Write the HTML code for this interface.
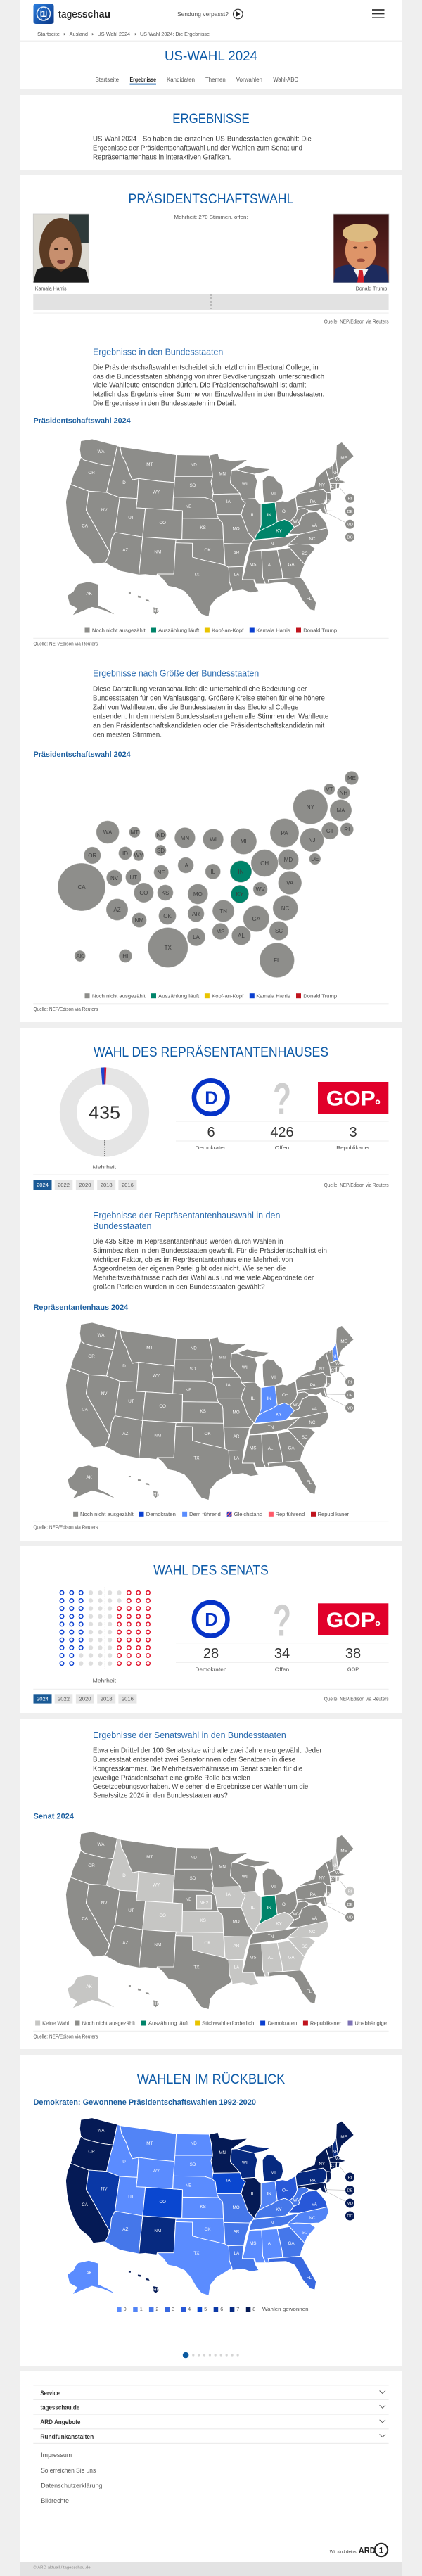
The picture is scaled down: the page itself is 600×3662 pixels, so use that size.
<!DOCTYPE html>
<html lang="de">
<head>
<meta charset="utf-8">
<title>US-Wahl 2024: Die Ergebnisse</title>
<style>
html,body{margin:0;padding:0;background:#efefef;}
svg{display:block;}
text{font-family:"Liberation Sans",Arial,sans-serif;}
.h1{font-size:19px;fill:#0d5aa7;text-anchor:middle;}
.h2{font-size:12.5px;fill:#2b6cb0;}
.ct{font-size:11px;font-weight:bold;fill:#1b5e9f;}
.p{font-size:9.8px;fill:#3d3d3d;}
.sm{font-size:7.2px;fill:#555;}
.bl{font-size:8px;fill:#3d3d3d;text-anchor:middle;}
.num{font-size:20px;fill:#333;text-anchor:middle;}
.cl{font-size:5.8px;fill:#fff;text-anchor:middle;}
</style>
</head>
<body>
<svg xmlns="http://www.w3.org/2000/svg" width="600" height="3662" viewBox="0 0 600 3662">
<defs>
<linearGradient id="lg" x1="0" y1="0" x2="1" y2="1"><stop offset="0" stop-color="#2b7fe0"/><stop offset="1" stop-color="#0a3584"/></linearGradient>
<linearGradient id="tbg" x1="0" y1="0" x2="0" y2="1"><stop offset="0" stop-color="#3a1414"/><stop offset="1" stop-color="#6a2a24"/></linearGradient>
<pattern id="stripe" width="3" height="3" patternUnits="userSpaceOnUse" patternTransform="rotate(45)"><rect width="1.5" height="3" fill="#0a3fd0"/><rect x="1.5" width="1.5" height="3" fill="#ff5a6a"/></pattern>
<clipPath id="cph"><rect x="47.3" y="304" width="79" height="98"/></clipPath>
<clipPath id="cpt"><rect x="474" y="304" width="79" height="98"/></clipPath>

<g id="states" stroke="#fff" stroke-width="2.7" stroke-linejoin="round">
<path style="fill:var(--WA,var(--d))" d="M300 80L342 72L436 100L420 188L380 182L345 172L312 162L300 150L296 118Z"/>
<path style="fill:var(--OR,var(--d))" d="M300 150L312 162L345 172L380 182L420 188L408 240L396 300L330 295L262 266L272 225L290 185Z"/>
<path style="fill:var(--CA,var(--d))" d="M262 266L330 295L320 376L406 552L400 580L390 600L346 606L330 578L300 550L282 520L266 480L255 440L248 395L244 340L250 300Z"/>
<path style="fill:var(--NV,var(--d))" d="M330 295L396 300L445 322L427 470L414 500L410 545L406 552L320 376Z"/>
<path style="fill:var(--ID,var(--d))" d="M436 100L446 105L452 140L470 180L480 215L492 246L515 241L510 326L445 322L396 300L408 240L420 188Z"/>
<path style="fill:var(--MT,var(--d))" d="M446 105L540 120L600 130L655 140L652 258L590 252L515 241L492 246L480 215L470 180L452 140Z"/>
<path style="fill:var(--WY,var(--d))" d="M515 241L590 252L652 258L644 320L642 375L540 368L506 366L510 326Z"/>
<path style="fill:var(--UT,var(--d))" d="M445 322L510 326L506 366L540 368L530 490L427 470Z"/>
<path style="fill:var(--AZ,var(--d))" d="M427 470L530 490L516 652L446 636L390 600L400 580L410 545L414 500Z"/>
<path style="fill:var(--CO,var(--d))" d="M540 368L642 375L678 378L676 500L530 490Z"/>
<path style="fill:var(--NM,var(--d))" d="M530 490L654 500L652 515L646 648L584 648L582 656L540 650L516 652Z"/>
<path style="fill:var(--ND,var(--d))" d="M655 140L777 142L785 180L790 232L650 232Z"/>
<path style="fill:var(--SD,var(--d))" d="M650 232L790 232L784 255L792 300L788 332L760 322L644 320Z"/>
<path style="fill:var(--NE,var(--d))" d="M644 320L760 322L788 332L800 345L806 375L812 412L678 410L678 378L642 375Z"/>
<path style="fill:var(--KS,var(--d))" d="M678 410L812 412L826 428L828 440L830 502L676 500Z"/>
<path style="fill:var(--OK,var(--d))" d="M654 500L676 500L830 502L836 610L800 600L760 590L715 576L715 517L652 515Z"/>
<path style="fill:var(--TX,var(--d))" d="M652 515L715 517L715 576L760 590L800 600L836 610L850 620L852 680L862 712L845 725L805 752L782 785L776 830L748 820L728 792L708 752L685 722L652 706L625 700L605 670L584 648L646 648Z"/>
<path style="fill:var(--MN,var(--d))" d="M777 142L810 134L815 155L860 165L922 160L872 196L860 206L856 260L880 290L892 306L792 308L792 300L784 255L790 232L785 180Z"/>
<path style="fill:var(--IA,var(--d))" d="M792 308L892 306L898 320L912 345L902 370L896 395L806 395L800 345L788 332L792 300Z"/>
<path style="fill:var(--MO,var(--d))" d="M806 395L896 395L906 420L922 450L945 492L940 506L928 520L832 518L830 502L828 440L826 428L812 412Z"/>
<path style="fill:var(--AR,var(--d))" d="M832 518L928 520L922 545L912 580L906 616L848 618L836 610Z"/>
<path style="fill:var(--LA,var(--d))" d="M848 618L906 616L902 650L900 672L942 670L950 700L962 722L932 728L902 716L862 722L862 712L852 680L850 620Z"/>
<path style="fill:var(--WI,var(--d))" d="M860 206L880 204L902 212L945 222L956 250L950 290L948 326L898 330L892 306L880 290L856 260Z"/>
<path style="fill:var(--MI,var(--d))" d="M880 202L918 186L960 196L1006 200L982 214L945 222L902 212Z M975 250L992 228L1018 232L1030 252L1048 268L1052 300L1046 328L1022 342L980 344L976 300Z"/>
<path style="fill:var(--IL,var(--d))" d="M898 330L948 326L962 346L970 350L970 440L962 466L952 482L946 502L922 472L906 422L896 395L902 370L912 345Z"/>
<path style="fill:var(--IN,var(--d))" d="M970 350L1022 342L1030 425L1010 440L985 452L962 466L970 440Z"/>
<path style="fill:var(--KY,var(--d))" d="M946 502L952 482L962 466L985 452L1010 440L1030 425L1057 415L1077 425L1093 448L1072 478L1060 490Z"/>
<path style="fill:var(--OH,var(--d))" d="M1022 342L1050 336L1066 340L1098 320L1104 380L1098 400L1077 425L1057 415L1030 425Z"/>
<path style="fill:var(--TN,var(--d))" d="M940 506L1060 490L1112 478L1092 500L1066 526L1040 534L926 552L930 528Z"/>
<path style="fill:var(--MS,var(--d))" d="M926 552L972 550L976 660L986 690L950 690L946 672L900 672L906 648L916 600Z"/>
<path style="fill:var(--AL,var(--d))" d="M972 550L1030 545L1048 640L1050 668L996 672L1000 690L986 690L976 660Z"/>
<path style="fill:var(--GA,var(--d))" d="M1030 545L1076 536L1110 580L1132 606L1120 640L1116 662L1050 668L1048 640Z"/>
<path style="fill:var(--FL,var(--d))" d="M996 672L1050 668L1116 662L1126 672L1150 720L1175 770L1170 805L1152 800L1124 762L1106 722L1092 698L1062 684L1020 686L1000 690Z"/>
<path style="fill:var(--SC,var(--d))" d="M1066 526L1100 520L1150 522L1172 540L1142 580L1132 606L1110 580L1076 536Z"/>
<path style="fill:var(--NC,var(--d))" d="M1112 478L1216 452L1222 470L1212 500L1186 520L1150 522L1100 520L1066 526L1092 500Z"/>
<path style="fill:var(--VA,var(--d))" d="M1072 478L1093 448L1110 440L1122 400L1146 385L1176 382L1192 400L1212 430L1216 452L1112 478Z"/>
<path style="fill:var(--WV,var(--d))" d="M1093 448L1077 425L1098 400L1104 380L1106 372L1132 368L1146 376L1146 385L1122 400L1110 440Z"/>
<path style="fill:var(--PA,var(--d))" d="M1098 320L1106 306L1200 286L1212 300L1214 330L1202 348L1106 362L1104 372Z"/>
<path style="fill:var(--MD,var(--d))" d="M1106 362L1202 348L1206 368L1212 392L1198 388L1190 372L1176 382L1146 376L1132 368L1106 372Z"/>
<path style="fill:var(--DE,var(--d))" d="M1202 348L1210 350L1216 380L1212 392L1206 368Z"/>
<path style="fill:var(--NJ,var(--d))" d="M1212 300L1228 302L1232 322L1224 346L1210 350L1214 330Z"/>
<path style="fill:var(--NY,var(--d))" d="M1106 306L1130 290L1168 272L1174 238L1210 200L1222 245L1226 262L1228 290L1232 300L1228 302L1212 300L1200 286Z"/>
<path style="fill:var(--VT,var(--d))" d="M1210 200L1236 186L1238 240L1222 245Z"/>
<path style="fill:var(--NH,var(--d))" d="M1236 186L1248 156L1256 232L1238 240Z"/>
<path style="fill:var(--ME,var(--d))" d="M1248 156L1250 98L1270 85L1290 110L1315 145L1270 190L1256 232Z"/>
<path style="fill:var(--MA,var(--d))" d="M1222 245L1238 240L1256 232L1268 248L1286 256L1262 262L1226 262Z"/>
<path style="fill:var(--CT,var(--d))" d="M1226 262L1250 262L1250 284L1228 292Z"/>
<path style="fill:var(--RI,var(--d))" d="M1250 262L1262 262L1260 282L1250 284Z"/>
<path style="fill:var(--AK,var(--d))" d="M290 690L330 680L366 692L366 782L400 800L430 822L420 820L382 802L342 790L300 810L268 826L286 795L258 778L250 740L272 722L282 700Z"/>
<path style="fill:var(--HI,var(--d))" stroke-width="0.5" d="M478 726L486 726L486 732L478 732Z M512 740L524 742L522 750L512 748Z M540 756L552 758L556 766L544 764Z M570 790L586 794L590 808L578 820L568 808Z"/>
</g>

<g id="conn" stroke="#bdbdbd" stroke-width="0.6" fill="none">
<line x1="483" y1="93.3" x2="491.8" y2="104"/>
<line x1="463.8" y1="126" x2="490.6" y2="126.7"/>
<line x1="463" y1="128.3" x2="491" y2="142.7"/>
</g>

<g id="labs" fill="#fff" font-size="6.3" text-anchor="middle" font-family="Liberation Sans, Arial, sans-serif">
<text x="143.5" y="43.9">WA</text><text x="130.1" y="73.9">OR</text><text x="120.6" y="149.5">CA</text><text x="148.1" y="126.9">NV</text>
<text x="175.7" y="87.9">ID</text><text x="212.8" y="62.2">MT</text><text x="222" y="101.5">WY</text><text x="186.4" y="138.2">UT</text>
<text x="231.2" y="145.2">CO</text><text x="178.3" y="184.2">AZ</text><text x="224.3" y="186.5">NM</text><text x="275.2" y="62.5">ND</text>
<text x="274" y="92.2">SD</text><text x="267.9" y="121.9">NE</text><text x="288.6" y="152.2">KS</text><text x="295.1" y="184.2">OK</text>
<text x="279.4" y="218.5">TX</text><text x="316.1" y="75.5">MN</text><text x="324.9" y="114.9">IA</text><text x="335.6" y="153.5">MO</text>
<text x="336" y="187.9">AR</text><text x="336.4" y="218.5">LA</text><text x="347.9" y="89.9">WI</text><text x="359.4" y="133.9">IL</text>
<text x="388.4" y="103.9">MI</text><text x="382.7" y="133.9">IN</text><text x="405.7" y="128.9">OH</text><text x="396.5" y="156.5">KY</text>
<text x="385" y="175.2">TN</text><text x="359.7" y="204.5">MS</text><text x="384.6" y="204.9">AL</text><text x="414.1" y="204.5">GA</text>
<text x="439.3" y="253.2">FL</text><text x="433.2" y="188.9">SC</text><text x="443.9" y="168.2">NC</text><text x="447" y="148.9">VA</text>
<text x="421.7" y="142.9">WV</text><text x="444.7" y="114.9">PA</text><text x="457.7" y="91.5">NY</text><text x="465" y="114.9">NJ</text>
<text x="466.9" y="67.2">VT</text><text x="476.9" y="73.9">NH</text><text x="480.7" y="83.9">MA</text><text x="474.6" y="93.9">CT</text>
<text x="489.1" y="53.2">ME</text><text x="126.7" y="246.2">AK</text><text x="221.2" y="269.9">HI</text>
</g>
</defs>

<!-- page background -->
<rect width="600" height="3662" fill="#efefef"/>

<!-- cards -->
<rect x="28" y="0" width="544" height="127" fill="#fff"/>
<rect x="28" y="135" width="544" height="106" fill="#fff"/>
<rect x="28" y="249" width="544" height="1204" fill="#fff"/>
<rect x="28" y="1462" width="544" height="728" fill="#fff"/>
<rect x="28" y="2198" width="544" height="237" fill="#fff"/>
<rect x="28" y="2443" width="544" height="470" fill="#fff"/>
<rect x="28" y="2922" width="544" height="441" fill="#fff"/>
<rect x="28" y="3371" width="544" height="291" fill="#fff"/>
<rect x="28" y="3642" width="544" height="20" fill="#e3e3e3"/>

<!-- HEADER -->
<rect x="47.5" y="5" width="29" height="29" rx="3.5" fill="url(#lg)"/>
<circle cx="62" cy="19.5" r="9.5" fill="none" stroke="#fff" stroke-width="1.6" opacity="0.9"/>
<ellipse cx="62" cy="19.5" rx="4.5" ry="9.5" fill="none" stroke="#fff" stroke-width="0.8" opacity="0.6"/>
<text x="62" y="24" font-size="13" font-weight="bold" fill="#fff" text-anchor="middle">1</text>
<text x="83" y="25" font-size="15" fill="#222" textLength="74" lengthAdjust="spacingAndGlyphs">tages<tspan font-weight="bold">schau</tspan></text>
<text x="252" y="23" font-size="8.5" fill="#555" textLength="73" lengthAdjust="spacingAndGlyphs">Sendung verpasst?</text>
<circle cx="338.3" cy="20" r="6.8" fill="none" stroke="#333" stroke-width="1.1"/>
<path d="M336 16.3L341.5 20L336 23.7Z" fill="#222"/>
<g stroke="#333" stroke-width="1.7"><line x1="529" y1="14" x2="546.5" y2="14"/><line x1="529" y1="19.5" x2="546.5" y2="19.5"/><line x1="529" y1="25.2" x2="546.5" y2="25.2"/></g>

<g class="sm" font-size="7">
<text x="53.2" y="51.2" textLength="31.8" lengthAdjust="spacingAndGlyphs">Startseite</text>
<text x="98.7" y="51.2" textLength="26.3" lengthAdjust="spacingAndGlyphs">Ausland</text>
<text x="138.5" y="51.2" textLength="46.5" lengthAdjust="spacingAndGlyphs">US-Wahl 2024</text>
<text x="199" y="51.2" textLength="99" lengthAdjust="spacingAndGlyphs">US-Wahl 2024: Die Ergebnisse</text>
</g>
<path d="M90.8 47L93.6 48.7L90.8 50.4Z M130.8 47L133.6 48.7L130.8 50.4Z M191.8 47L194.6 48.7L191.8 50.4Z" fill="#666"/>
<rect x="28" y="57.5" width="544" height="1.6" fill="#f0f0f0"/>

<text class="h1" x="300" y="86" font-size="20" textLength="132" lengthAdjust="spacingAndGlyphs">US-WAHL 2024</text>

<g font-size="8" fill="#555">
<text x="135.5" y="116" textLength="33.5" lengthAdjust="spacingAndGlyphs">Startseite</text>
<text x="184.5" y="116" textLength="37.5" lengthAdjust="spacingAndGlyphs" fill="#222" font-weight="bold">Ergebnisse</text>
<text x="237" y="116" textLength="40" lengthAdjust="spacingAndGlyphs">Kandidaten</text>
<text x="292" y="116" textLength="28.7" lengthAdjust="spacingAndGlyphs">Themen</text>
<text x="335.6" y="116" textLength="37.4" lengthAdjust="spacingAndGlyphs">Vorwahlen</text>
<text x="388.4" y="116" textLength="35.6" lengthAdjust="spacingAndGlyphs">Wahl-ABC</text>
</g>
<rect x="184.5" y="118.7" width="37.5" height="1.8" fill="#0c5aa6"/>

<!-- ERGEBNISSE -->
<text class="h1" x="300" y="174.8" textLength="109.5" lengthAdjust="spacingAndGlyphs">ERGEBNISSE</text>
<g class="p">
<text x="132" y="200.4" textLength="310.8" lengthAdjust="spacingAndGlyphs">US-Wahl 2024 - So haben die einzelnen US-Bundesstaaten gewählt: Die</text>
<text x="132" y="213.4" textLength="298" lengthAdjust="spacingAndGlyphs">Ergebnisse der Präsidentschaftswahl und der Wahlen zum Senat und</text>
<text x="132" y="226.4" textLength="196.4" lengthAdjust="spacingAndGlyphs">Repräsentantenhaus in interaktiven Grafiken.</text>
</g>

<!-- PRÄSIDENTSCHAFTSWAHL -->
<text class="h1" x="300" y="289" textLength="235" lengthAdjust="spacingAndGlyphs">PRÄSIDENTSCHAFTSWAHL</text>
<text class="sm" x="300" y="310.8" text-anchor="middle" textLength="105" lengthAdjust="spacingAndGlyphs">Mehrheit: 270 Stimmen, offen:</text>

<!-- Harris photo -->
<g clip-path="url(#cph)">
<rect x="47.3" y="304" width="79" height="98" fill="#dcdad3"/>
<rect x="98" y="304" width="29" height="42" fill="#2e3a3a"/>
<ellipse cx="86" cy="354" rx="30" ry="44" fill="#5b3b24"/>
<ellipse cx="87" cy="360" rx="17" ry="23" fill="#c78f6e"/>
<ellipse cx="80" cy="354" rx="3" ry="1.6" fill="#3a2418"/>
<ellipse cx="94" cy="354" rx="3" ry="1.6" fill="#3a2418"/>
<ellipse cx="87" cy="372" rx="6" ry="3" fill="#7a3a35"/>
<path d="M47 402L52 384Q68 374 87 386Q106 374 122 384L127 402Z" fill="#1b1b1b"/>
</g>
<rect x="47.3" y="304" width="79" height="98" fill="none" stroke="#ccc" stroke-width="0.8"/>

<!-- Trump photo -->
<g clip-path="url(#cpt)">
<rect x="474" y="304" width="79" height="98" fill="url(#tbg)"/>
<path d="M474 402L477 382Q494 372 513 380Q532 372 549 382L553 402Z" fill="#1d2b5e"/>
<ellipse cx="512.8" cy="356" rx="22" ry="27" fill="#de9468"/>
<ellipse cx="512" cy="331" rx="25" ry="13" fill="#dcba80"/>
<ellipse cx="505" cy="352" rx="3" ry="1.5" fill="#5a3020"/>
<ellipse cx="520" cy="352" rx="3" ry="1.5" fill="#5a3020"/>
<ellipse cx="513" cy="370" rx="6" ry="2.5" fill="#9a4a3a"/>
<path d="M502 382L513 402L524 382Z" fill="#f2f2f2"/>
<path d="M510.5 384L515.5 384L518 402L508 402Z" fill="#d01f2a"/>
</g>
<rect x="474" y="304" width="79" height="98" fill="none" stroke="#ccc" stroke-width="0.8"/>

<text class="sm" x="49.8" y="412.5" textLength="44.7" lengthAdjust="spacingAndGlyphs">Kamala Harris</text>
<text class="sm" x="550.3" y="412.5" text-anchor="end" textLength="44.7" lengthAdjust="spacingAndGlyphs">Donald Trump</text>
<rect x="47.3" y="418" width="505.3" height="22" fill="#e2e2e2"/>
<line x1="300" y1="416" x2="300" y2="442" stroke="#888" stroke-width="0.9" stroke-dasharray="1,1"/>
<rect x="47.3" y="444.6" width="505.3" height="1" fill="#ececec"/>
<text class="sm" x="552.6" y="459.4" font-size="6.8" text-anchor="end" textLength="91.8" lengthAdjust="spacingAndGlyphs">Quelle: NEP/Edison via Reuters</text>

<text class="h2" x="132" y="504.3" textLength="185.3" lengthAdjust="spacingAndGlyphs">Ergebnisse in den Bundesstaaten</text>
<g class="p">
<text x="132" y="525.4" textLength="320.7" lengthAdjust="spacingAndGlyphs">Die Präsidentschaftswahl entscheidet sich letztlich im Electoral College, in</text>
<text x="132" y="538.4" textLength="329.2" lengthAdjust="spacingAndGlyphs">das die Bundesstaaten abhängig von ihrer Bevölkerungszahl unterschiedlich</text>
<text x="132" y="550.7" textLength="303.1" lengthAdjust="spacingAndGlyphs">viele Wahlleute entsenden dürfen. Die Präsidentschaftswahl ist damit</text>
<text x="132" y="563.4" textLength="329.2" lengthAdjust="spacingAndGlyphs">letztlich das Ergebnis einer Summe von Einzelwahlen in den Bundesstaaten.</text>
<text x="132" y="576.4" textLength="203.6" lengthAdjust="spacingAndGlyphs">Die Ergebnisse in den Bundesstaaten im Detail.</text>
</g>

<text class="ct" x="47.5" y="601.3" textLength="138.2" lengthAdjust="spacingAndGlyphs">Präsidentschaftswahl 2024</text>

<!-- MAP 1 -->
<use href="#states" transform="translate(0 600) scale(0.38270 0.33333)" style="--d:#8d8d8a;--IN:#00846a;--KY:#00846a"/>
<use href="#conn" y="600"/>
<use href="#labs" y="600"/>
<g fill="#8d8d8a" stroke="#fff" stroke-width="0.6">
<circle cx="497.5" cy="708.3" r="6.8"/><circle cx="497.5" cy="726.7" r="6.8"/><circle cx="497.5" cy="745.3" r="6.8"/><circle cx="497.5" cy="763.3" r="6.8"/>
</g>
<text class="cl" x="497.5" y="710.4">RI</text><text class="cl" x="497.5" y="728.8">DE</text><text class="cl" x="497.5" y="747.4">MD</text><text class="cl" x="497.5" y="765.4">DC</text>

<!-- legend 1 -->
<g font-size="7.5" fill="#555">
<rect x="120.5" y="892.5" width="7" height="7" fill="#8d8d8a"/><text x="130.9" y="898.6" textLength="75.8" lengthAdjust="spacingAndGlyphs">Noch nicht ausgezählt</text>
<rect x="215" y="892.5" width="7" height="7" fill="#00846a"/><text x="225" y="898.6" textLength="58.2" lengthAdjust="spacingAndGlyphs">Auszählung läuft</text>
<rect x="290.9" y="892.5" width="7" height="7" fill="#e9c400"/><text x="301.2" y="898.6" textLength="45.1" lengthAdjust="spacingAndGlyphs">Kopf-an-Kopf</text>
<rect x="354.8" y="892.5" width="7" height="7" fill="#0a3fd0"/><text x="364.3" y="898.6" textLength="48.3" lengthAdjust="spacingAndGlyphs">Kamala Harris</text>
<rect x="421" y="892.5" width="7" height="7" fill="#c0141e"/><text x="431.3" y="898.6" textLength="47.8" lengthAdjust="spacingAndGlyphs">Donald Trump</text>
</g>
<rect x="47.3" y="906.8" width="505.3" height="1" fill="#ececec"/>
<text class="sm" x="47.5" y="917.4" font-size="6.8" textLength="91.8" lengthAdjust="spacingAndGlyphs">Quelle: NEP/Edison via Reuters</text>

<text class="h2" x="132" y="961.6" textLength="236.2" lengthAdjust="spacingAndGlyphs">Ergebnisse nach Größe der Bundesstaaten</text>
<g class="p">
<text x="132" y="982.7" textLength="304.3" lengthAdjust="spacingAndGlyphs">Diese Darstellung veranschaulicht die unterschiedliche Bedeutung der</text>
<text x="132" y="995.7" textLength="329.9" lengthAdjust="spacingAndGlyphs">Bundesstaaten für den Wahlausgang. Größere Kreise stehen für eine höhere</text>
<text x="132" y="1008.4" textLength="292.4" lengthAdjust="spacingAndGlyphs">Zahl von Wahlleuten, die die Bundesstaaten in das Electoral College</text>
<text x="132" y="1021.4" textLength="335.3" lengthAdjust="spacingAndGlyphs">entsenden. In den meisten Bundesstaaten gehen alle Stimmen der Wahlleute</text>
<text x="132" y="1034.4" textLength="329.2" lengthAdjust="spacingAndGlyphs">an den Präsidentschaftskandidaten oder die Präsidentschaftskandidatin mit</text>
<text x="132" y="1047.4" textLength="98" lengthAdjust="spacingAndGlyphs">den meisten Stimmen.</text>
</g>
<text class="ct" x="47.5" y="1076.1" textLength="138.2" lengthAdjust="spacingAndGlyphs">Präsidentschaftswahl 2024</text>

<!-- BUBBLES -->
<g fill="#8e8e8b" stroke="#b5b5b2" stroke-width="0.5">
<circle cx="500" cy="1106" r="9.5"/><circle cx="468.4" cy="1122" r="7.7"/><circle cx="488.4" cy="1127" r="9"/>
<circle cx="441.3" cy="1147" r="24.5"/><circle cx="484.5" cy="1152" r="15.3"/><circle cx="404.5" cy="1184" r="20.3"/>
<circle cx="443.5" cy="1194" r="16.8"/><circle cx="469.2" cy="1181" r="11.9"/><circle cx="493.3" cy="1179" r="9.2"/>
<circle cx="447.8" cy="1221" r="8"/><circle cx="153.1" cy="1183" r="16.1"/><circle cx="191.4" cy="1183" r="7.7"/>
<circle cx="228.5" cy="1187" r="7.7"/><circle cx="262.9" cy="1191" r="14.5"/><circle cx="303.1" cy="1193" r="14.5"/>
<circle cx="346.3" cy="1196" r="18.4"/><circle cx="131.3" cy="1216" r="11.9"/><circle cx="178" cy="1213" r="9.2"/>
<circle cx="197.1" cy="1216" r="7.7"/><circle cx="228.5" cy="1209" r="7.7"/><circle cx="264.1" cy="1230" r="11.1"/>
<circle cx="302.7" cy="1239" r="10.7"/><circle cx="342.5" cy="1239" r="15.3" fill="#00846a"/><circle cx="376.2" cy="1227" r="19.1"/>
<circle cx="409.9" cy="1222" r="14.5"/><circle cx="116" cy="1261" r="33.7"/><circle cx="162.6" cy="1248" r="11.1"/>
<circle cx="189.8" cy="1247" r="11.1"/><circle cx="229.2" cy="1240" r="10.3"/><circle cx="204.4" cy="1269" r="13.8"/>
<circle cx="235" cy="1269" r="11.1"/><circle cx="281.3" cy="1271" r="14.2"/><circle cx="341" cy="1271" r="12.6" fill="#00846a"/>
<circle cx="370.1" cy="1264" r="10"/><circle cx="412.2" cy="1255" r="16.5"/><circle cx="166.5" cy="1293" r="15.3"/>
<circle cx="197.9" cy="1308" r="10.3"/><circle cx="238" cy="1302" r="12.2"/><circle cx="278.6" cy="1299" r="11.5"/>
<circle cx="317.6" cy="1295" r="15.3"/><circle cx="364.3" cy="1306" r="18.4"/><circle cx="405.7" cy="1291" r="17.6"/>
<circle cx="396.5" cy="1323" r="13.4"/><circle cx="313.4" cy="1324" r="11.5"/><circle cx="342.9" cy="1330" r="13.4"/>
<circle cx="279" cy="1332" r="12.6"/><circle cx="238.8" cy="1347" r="28.3"/><circle cx="393.8" cy="1365" r="24.5"/>
<circle cx="113.7" cy="1359" r="7.7"/><circle cx="178.3" cy="1359" r="9.2"/>
</g>
<g class="bl">
<text x="500" y="1108.8">ME</text><text x="468.4" y="1124.8">VT</text><text x="488.4" y="1129.8">NH</text>
<text x="441.3" y="1149.8">NY</text><text x="484.5" y="1154.8">MA</text><text x="404.5" y="1186.8">PA</text>
<text x="443.5" y="1196.8">NJ</text><text x="469.2" y="1183.8">CT</text><text x="493.3" y="1181.8">RI</text>
<text x="447.8" y="1223.8">DE</text><text x="153.1" y="1185.8">WA</text><text x="191.4" y="1185.8">MT</text>
<text x="228.5" y="1189.8">ND</text><text x="262.9" y="1193.8">MN</text><text x="303.1" y="1195.8">WI</text>
<text x="346.3" y="1198.8">MI</text><text x="131.3" y="1218.8">OR</text><text x="178" y="1215.8">ID</text>
<text x="197.1" y="1218.8">WY</text><text x="228.5" y="1211.8">SD</text><text x="264.1" y="1232.8">IA</text>
<text x="302.7" y="1241.8">IL</text><text x="342.5" y="1241.8">IN</text><text x="376.2" y="1229.8">OH</text>
<text x="409.9" y="1224.8">MD</text><text x="116" y="1263.8">CA</text><text x="162.6" y="1250.8">NV</text>
<text x="189.8" y="1249.8">UT</text><text x="229.2" y="1242.8">NE</text><text x="204.4" y="1271.8">CO</text>
<text x="235" y="1271.8">KS</text><text x="281.3" y="1273.8">MO</text><text x="341" y="1273.8">KY</text>
<text x="370.1" y="1266.8">WV</text><text x="412.2" y="1257.8">VA</text><text x="166.5" y="1295.8">AZ</text>
<text x="197.9" y="1310.8">NM</text><text x="238" y="1304.8">OK</text><text x="278.6" y="1301.8">AR</text>
<text x="317.6" y="1297.8">TN</text><text x="364.3" y="1308.8">GA</text><text x="405.7" y="1293.8">NC</text>
<text x="396.5" y="1325.8">SC</text><text x="313.4" y="1326.8">MS</text><text x="342.9" y="1332.8">AL</text>
<text x="279" y="1334.8">LA</text><text x="238.8" y="1349.8">TX</text><text x="393.8" y="1367.8">FL</text>
<text x="113.7" y="1361.8">AK</text><text x="178.3" y="1361.8">HI</text>
</g>

<!-- legend 2 -->
<g font-size="7.5" fill="#555">
<rect x="120.5" y="1412.2" width="7" height="7" fill="#8d8d8a"/><text x="130.9" y="1418.3" textLength="75.8" lengthAdjust="spacingAndGlyphs">Noch nicht ausgezählt</text>
<rect x="215" y="1412.2" width="7" height="7" fill="#00846a"/><text x="225" y="1418.3" textLength="58.2" lengthAdjust="spacingAndGlyphs">Auszählung läuft</text>
<rect x="290.9" y="1412.2" width="7" height="7" fill="#e9c400"/><text x="301.2" y="1418.3" textLength="45.1" lengthAdjust="spacingAndGlyphs">Kopf-an-Kopf</text>
<rect x="354.8" y="1412.2" width="7" height="7" fill="#0a3fd0"/><text x="364.3" y="1418.3" textLength="48.3" lengthAdjust="spacingAndGlyphs">Kamala Harris</text>
<rect x="421" y="1412.2" width="7" height="7" fill="#c0141e"/><text x="431.3" y="1418.3" textLength="47.8" lengthAdjust="spacingAndGlyphs">Donald Trump</text>
</g>
<rect x="47.3" y="1426.3" width="505.3" height="1" fill="#ececec"/>
<text class="sm" x="47.5" y="1437.1" font-size="6.8" textLength="91.8" lengthAdjust="spacingAndGlyphs">Quelle: NEP/Edison via Reuters</text>

<!-- REPRÄSENTANTENHAUS -->
<text class="h1" x="300" y="1501.8" textLength="334" lengthAdjust="spacingAndGlyphs">WAHL DES REPRÄSENTANTENHAUSES</text>
<circle cx="148.5" cy="1581" r="51.55" fill="none" stroke="#e5e5e5" stroke-width="24.1"/>
<path d="M143.5 1517.6L148.5 1517.4L148.5 1541.5L145.4 1541.6Z" fill="#1a45d0"/>
<path d="M148.5 1517.4L151.2 1517.5L150.1 1541.5L148.5 1541.5Z" fill="#e0102a"/>
<text x="148.5" y="1590.5" font-size="25.5" fill="#333" text-anchor="middle" textLength="45" lengthAdjust="spacingAndGlyphs">435</text>
<line x1="148.7" y1="1621" x2="148.7" y2="1643" stroke="#555" stroke-width="0.8" stroke-dasharray="1.5,1.5"/>
<text class="sm" x="148.3" y="1661.4" font-size="7.5" text-anchor="middle" textLength="33.4" lengthAdjust="spacingAndGlyphs">Mehrheit</text>

<circle cx="299.7" cy="1560" r="23.8" fill="#fff" stroke="#0633c7" stroke-width="6.5"/>
<text x="300.5" y="1569.3" font-size="25.5" font-weight="bold" fill="#0633c7" text-anchor="middle">D</text>
<text x="401" y="1584" font-size="64" font-weight="bold" fill="#cfcfcf" text-anchor="middle" textLength="26" lengthAdjust="spacingAndGlyphs">?</text>
<rect x="452" y="1538" width="100.3" height="45" fill="#e1002a"/>
<text x="463.8" y="1571.5" font-size="30" font-weight="bold" fill="#fff" textLength="70" lengthAdjust="spacingAndGlyphs">GOP</text>
<circle cx="537" cy="1566.7" r="3.3" fill="#fff"/><circle cx="537" cy="1566.7" r="1.6" fill="#e1002a"/>
<rect x="250" y="1593.5" width="302.6" height="1" fill="#ececec"/>
<text class="num" x="300" y="1616.2">6</text><text class="num" x="401" y="1616.2">426</text><text class="num" x="502" y="1616.2">3</text>
<rect x="250" y="1621.5" width="302.6" height="1" fill="#ececec"/>
<g font-size="7.6" fill="#555" text-anchor="middle">
<text x="300" y="1634" textLength="45" lengthAdjust="spacingAndGlyphs">Demokraten</text>
<text x="401" y="1634" textLength="20.5" lengthAdjust="spacingAndGlyphs">Offen</text>
<text x="502" y="1634" textLength="47.5" lengthAdjust="spacingAndGlyphs">Republikaner</text>
</g>
<rect x="47.3" y="1669.5" width="505.3" height="1" fill="#ececec"/>
<rect x="47.5" y="1677.7" width="26" height="13.3" fill="#1a5a96"/>
<rect x="77.7" y="1677.7" width="25.6" height="13.3" fill="#e6e6e6"/>
<rect x="107.9" y="1677.7" width="26.1" height="13.3" fill="#e6e6e6"/>
<rect x="138.2" y="1677.7" width="26" height="13.3" fill="#e6e6e6"/>
<rect x="168.4" y="1677.7" width="26" height="13.3" fill="#e6e6e6"/>
<g font-size="7.6" text-anchor="middle" fill="#555">
<text x="60.5" y="1687" fill="#fff">2024</text><text x="90.5" y="1687">2022</text><text x="121" y="1687">2020</text><text x="151.2" y="1687">2018</text><text x="181.4" y="1687">2016</text>
</g>
<text class="sm" x="552.6" y="1687.1" font-size="6.8" text-anchor="end" textLength="91.8" lengthAdjust="spacingAndGlyphs">Quelle: NEP/Edison via Reuters</text>

<text class="h2" x="132" y="1732" textLength="266.4" lengthAdjust="spacingAndGlyphs">Ergebnisse der Repräsentantenhauswahl in den</text>
<text class="h2" x="132" y="1747" textLength="83.5" lengthAdjust="spacingAndGlyphs">Bundesstaaten</text>
<g class="p">
<text x="132" y="1768.1" textLength="270.6" lengthAdjust="spacingAndGlyphs">Die 435 Sitze im Repräsentantenhaus werden durch Wahlen in</text>
<text x="132" y="1781.1" textLength="333" lengthAdjust="spacingAndGlyphs">Stimmbezirken in den Bundesstaaten gewählt. Für die Präsidentschaft ist ein</text>
<text x="132" y="1794.1" textLength="284.4" lengthAdjust="spacingAndGlyphs">wichtiger Faktor, ob es im Repräsentantenhaus eine Mehrheit von</text>
<text x="132" y="1806.7" textLength="274.4" lengthAdjust="spacingAndGlyphs">Abgeordneten der eigenen Partei gibt oder nicht. Wie sehen die</text>
<text x="132" y="1819.4" textLength="314.2" lengthAdjust="spacingAndGlyphs">Mehrheitsverhältnisse nach der Wahl aus und wie viele Abgeordnete der</text>
<text x="132" y="1832.4" textLength="244.6" lengthAdjust="spacingAndGlyphs">großen Parteien wurden in den Bundesstaaten gewählt?</text>
</g>
<text class="ct" x="47.5" y="1862.1" textLength="134.7" lengthAdjust="spacingAndGlyphs">Repräsentantenhaus 2024</text>

<!-- MAP 2 -->
<use href="#states" transform="translate(0 1856) scale(0.38270 0.33333)" style="--d:#8d8d8a;--IN:#5a8dfe;--KY:#5a8dfe;--NH:#5a8dfe"/>
<use href="#conn" y="1856"/>
<use href="#labs" y="1856"/>
<g fill="#8d8d8a" stroke="#fff" stroke-width="0.6">
<circle cx="497.5" cy="1964.3" r="6.8"/><circle cx="497.5" cy="1982.7" r="6.8"/><circle cx="497.5" cy="2001.3" r="6.8"/>
</g>
<text class="cl" x="497.5" y="1966.4">RI</text><text class="cl" x="497.5" y="1984.8">DE</text><text class="cl" x="497.5" y="2003.4">MD</text>

<g font-size="7.5" fill="#555">
<rect x="104.1" y="2148.8" width="7" height="7" fill="#8d8d8a"/><text x="114" y="2154.9" textLength="75.8" lengthAdjust="spacingAndGlyphs">Noch nicht ausgezählt</text>
<rect x="197.5" y="2148.8" width="7" height="7" fill="#0a3fd0"/><text x="207.8" y="2154.9" textLength="42.1" lengthAdjust="spacingAndGlyphs">Demokraten</text>
<rect x="259.1" y="2148.8" width="7" height="7" fill="#5a8dfe"/><text x="269" y="2154.9" textLength="44.8" lengthAdjust="spacingAndGlyphs">Dem führend</text>
<rect x="322.6" y="2148.8" width="7" height="7" fill="url(#stripe)"/><text x="332.6" y="2154.9" textLength="40.5" lengthAdjust="spacingAndGlyphs">Gleichstand</text>
<rect x="381.9" y="2148.8" width="7" height="7" fill="#ff5a6a"/><text x="391.5" y="2154.9" textLength="41.7" lengthAdjust="spacingAndGlyphs">Rep führend</text>
<rect x="442" y="2148.8" width="7" height="7" fill="#c0141e"/><text x="451.6" y="2154.9" textLength="44.4" lengthAdjust="spacingAndGlyphs">Republikaner</text>
</g>
<rect x="47.3" y="2162.8" width="505.3" height="1" fill="#ececec"/>
<text class="sm" x="47.5" y="2173.7" font-size="6.8" textLength="91.8" lengthAdjust="spacingAndGlyphs">Quelle: NEP/Edison via Reuters</text>

<!-- SENAT -->
<text class="h1" x="300" y="2238.5" textLength="163.5" lengthAdjust="spacingAndGlyphs">WAHL DES SENATS</text>
<g id="sdots">
<!-- col 0,1 blue all rows -->
<g fill="none" stroke="#0a3fd0" stroke-width="1.4">
<circle cx="88" cy="2264.3" r="2.8"/><circle cx="88" cy="2275.5" r="2.8"/><circle cx="88" cy="2286.6" r="2.8"/><circle cx="88" cy="2297.8" r="2.8"/><circle cx="88" cy="2308.9" r="2.8"/><circle cx="88" cy="2320.1" r="2.8"/><circle cx="88" cy="2331.2" r="2.8"/><circle cx="88" cy="2342.4" r="2.8"/><circle cx="88" cy="2353.5" r="2.8"/><circle cx="88" cy="2364.7" r="2.8"/>
<circle cx="101.8" cy="2264.3" r="2.8"/><circle cx="101.8" cy="2275.5" r="2.8"/><circle cx="101.8" cy="2286.6" r="2.8"/><circle cx="101.8" cy="2297.8" r="2.8"/><circle cx="101.8" cy="2308.9" r="2.8"/><circle cx="101.8" cy="2320.1" r="2.8"/><circle cx="101.8" cy="2331.2" r="2.8"/><circle cx="101.8" cy="2342.4" r="2.8"/><circle cx="101.8" cy="2353.5" r="2.8"/><circle cx="101.8" cy="2364.7" r="2.8"/>
<circle cx="115.2" cy="2264.3" r="2.8"/><circle cx="115.2" cy="2275.5" r="2.8"/><circle cx="115.2" cy="2286.6" r="2.8"/><circle cx="115.2" cy="2297.8" r="2.8"/><circle cx="115.2" cy="2308.9" r="2.8"/><circle cx="115.2" cy="2320.1" r="2.8"/><circle cx="115.2" cy="2331.2" r="2.8"/><circle cx="115.2" cy="2342.4" r="2.8"/>
</g>
<g fill="#dedede">
<circle cx="115.2" cy="2353.5" r="3.2"/><circle cx="115.2" cy="2364.7" r="3.2"/>
<circle cx="129" cy="2264.3" r="3.2"/><circle cx="129" cy="2275.5" r="3.2"/><circle cx="129" cy="2286.6" r="3.2"/><circle cx="129" cy="2297.8" r="3.2"/><circle cx="129" cy="2308.9" r="3.2"/><circle cx="129" cy="2320.1" r="3.2"/><circle cx="129" cy="2331.2" r="3.2"/><circle cx="129" cy="2342.4" r="3.2"/><circle cx="129" cy="2353.5" r="3.2"/><circle cx="129" cy="2364.7" r="3.2"/>
<circle cx="142.4" cy="2264.3" r="3.2"/><circle cx="142.4" cy="2275.5" r="3.2"/><circle cx="142.4" cy="2286.6" r="3.2"/><circle cx="142.4" cy="2297.8" r="3.2"/><circle cx="142.4" cy="2308.9" r="3.2"/><circle cx="142.4" cy="2320.1" r="3.2"/><circle cx="142.4" cy="2331.2" r="3.2"/><circle cx="142.4" cy="2342.4" r="3.2"/><circle cx="142.4" cy="2353.5" r="3.2"/><circle cx="142.4" cy="2364.7" r="3.2"/>
<circle cx="156.1" cy="2264.3" r="3.2"/><circle cx="156.1" cy="2275.5" r="3.2"/><circle cx="156.1" cy="2286.6" r="3.2"/><circle cx="156.1" cy="2297.8" r="3.2"/><circle cx="156.1" cy="2308.9" r="3.2"/><circle cx="156.1" cy="2320.1" r="3.2"/><circle cx="156.1" cy="2331.2" r="3.2"/><circle cx="156.1" cy="2342.4" r="3.2"/><circle cx="156.1" cy="2353.5" r="3.2"/><circle cx="156.1" cy="2364.7" r="3.2"/>
<circle cx="169.5" cy="2264.3" r="3.2"/><circle cx="169.5" cy="2275.5" r="3.2"/>
</g>
<g fill="none" stroke="#e0102a" stroke-width="1.4">
<circle cx="169.5" cy="2286.6" r="2.8"/><circle cx="169.5" cy="2297.8" r="2.8"/><circle cx="169.5" cy="2308.9" r="2.8"/><circle cx="169.5" cy="2320.1" r="2.8"/><circle cx="169.5" cy="2331.2" r="2.8"/><circle cx="169.5" cy="2342.4" r="2.8"/><circle cx="169.5" cy="2353.5" r="2.8"/><circle cx="169.5" cy="2364.7" r="2.8"/>
<circle cx="183.3" cy="2264.3" r="2.8"/><circle cx="183.3" cy="2275.5" r="2.8"/><circle cx="183.3" cy="2286.6" r="2.8"/><circle cx="183.3" cy="2297.8" r="2.8"/><circle cx="183.3" cy="2308.9" r="2.8"/><circle cx="183.3" cy="2320.1" r="2.8"/><circle cx="183.3" cy="2331.2" r="2.8"/><circle cx="183.3" cy="2342.4" r="2.8"/><circle cx="183.3" cy="2353.5" r="2.8"/><circle cx="183.3" cy="2364.7" r="2.8"/>
<circle cx="196.7" cy="2264.3" r="2.8"/><circle cx="196.7" cy="2275.5" r="2.8"/><circle cx="196.7" cy="2286.6" r="2.8"/><circle cx="196.7" cy="2297.8" r="2.8"/><circle cx="196.7" cy="2308.9" r="2.8"/><circle cx="196.7" cy="2320.1" r="2.8"/><circle cx="196.7" cy="2331.2" r="2.8"/><circle cx="196.7" cy="2342.4" r="2.8"/><circle cx="196.7" cy="2353.5" r="2.8"/><circle cx="196.7" cy="2364.7" r="2.8"/>
<circle cx="210.5" cy="2264.3" r="2.8"/><circle cx="210.5" cy="2275.5" r="2.8"/><circle cx="210.5" cy="2286.6" r="2.8"/><circle cx="210.5" cy="2297.8" r="2.8"/><circle cx="210.5" cy="2308.9" r="2.8"/><circle cx="210.5" cy="2320.1" r="2.8"/><circle cx="210.5" cy="2331.2" r="2.8"/><circle cx="210.5" cy="2342.4" r="2.8"/><circle cx="210.5" cy="2353.5" r="2.8"/><circle cx="210.5" cy="2364.7" r="2.8"/>
</g>
</g>
<line x1="149.3" y1="2256" x2="149.3" y2="2373" stroke="#666" stroke-width="0.7" stroke-dasharray="1.5,1"/>
<text class="sm" x="148.3" y="2391.6" font-size="7.5" text-anchor="middle" textLength="33.4" lengthAdjust="spacingAndGlyphs">Mehrheit</text>

<circle cx="299.7" cy="2301.7" r="23.8" fill="#fff" stroke="#0633c7" stroke-width="6.5"/>
<text x="300.5" y="2311" font-size="25.5" font-weight="bold" fill="#0633c7" text-anchor="middle">D</text>
<text x="401" y="2325.5" font-size="64" font-weight="bold" fill="#cfcfcf" text-anchor="middle" textLength="26" lengthAdjust="spacingAndGlyphs">?</text>
<rect x="452" y="2279.3" width="100.3" height="45" fill="#e1002a"/>
<text x="463.8" y="2312.8" font-size="30" font-weight="bold" fill="#fff" textLength="70" lengthAdjust="spacingAndGlyphs">GOP</text>
<circle cx="537" cy="2308" r="3.3" fill="#fff"/><circle cx="537" cy="2308" r="1.6" fill="#e1002a"/>
<rect x="250" y="2335.2" width="302.6" height="1" fill="#ececec"/>
<text class="num" x="300" y="2357.2">28</text><text class="num" x="401" y="2357.2">34</text><text class="num" x="502" y="2357.2">38</text>
<rect x="250" y="2362.8" width="302.6" height="1" fill="#ececec"/>
<g font-size="7.6" fill="#555" text-anchor="middle">
<text x="300" y="2375.4" textLength="45" lengthAdjust="spacingAndGlyphs">Demokraten</text>
<text x="401" y="2375.4" textLength="20.5" lengthAdjust="spacingAndGlyphs">Offen</text>
<text x="502" y="2375.4" textLength="16.5" lengthAdjust="spacingAndGlyphs">GOP</text>
</g>
<rect x="47.3" y="2400.8" width="505.3" height="1" fill="#ececec"/>
<rect x="47.5" y="2408.3" width="26" height="13.3" fill="#1a5a96"/>
<rect x="77.7" y="2408.3" width="25.6" height="13.3" fill="#e6e6e6"/>
<rect x="107.9" y="2408.3" width="26.1" height="13.3" fill="#e6e6e6"/>
<rect x="138.2" y="2408.3" width="26" height="13.3" fill="#e6e6e6"/>
<rect x="168.4" y="2408.3" width="26" height="13.3" fill="#e6e6e6"/>
<g font-size="7.6" text-anchor="middle" fill="#555">
<text x="60.5" y="2417.6" fill="#fff">2024</text><text x="90.5" y="2417.6">2022</text><text x="121" y="2417.6">2020</text><text x="151.2" y="2417.6">2018</text><text x="181.4" y="2417.6">2016</text>
</g>
<text class="sm" x="552.6" y="2417.7" font-size="6.8" text-anchor="end" textLength="91.8" lengthAdjust="spacingAndGlyphs">Quelle: NEP/Edison via Reuters</text>

<!-- SENAT MAP CARD -->
<text class="h2" x="132" y="2471" textLength="274.8" lengthAdjust="spacingAndGlyphs">Ergebnisse der Senatswahl in den Bundesstaaten</text>
<g class="p">
<text x="132" y="2491.7" textLength="325.7" lengthAdjust="spacingAndGlyphs">Etwa ein Drittel der 100 Senatssitze wird alle zwei Jahre neu gewählt. Jeder</text>
<text x="132" y="2504.7" textLength="288.2" lengthAdjust="spacingAndGlyphs">Bundesstaat entsendet zwei Senatorinnen oder Senatoren in diese</text>
<text x="132" y="2517.7" textLength="298.2" lengthAdjust="spacingAndGlyphs">Kongresskammer. Die Mehrheitsverhältnisse im Senat spielen für die</text>
<text x="132" y="2530.4" textLength="223.9" lengthAdjust="spacingAndGlyphs">jeweilige Präsidentschaft eine große Rolle bei vielen</text>
<text x="132" y="2543.1" textLength="306.2" lengthAdjust="spacingAndGlyphs">Gesetzgebungsvorhaben. Wie sehen die Ergebnisse der Wahlen um die</text>
<text x="132" y="2555.7" textLength="191.8" lengthAdjust="spacingAndGlyphs">Senatssitze 2024 in den Bundesstaaten aus?</text>
</g>
<text class="ct" x="47.5" y="2585.5" textLength="57.4" lengthAdjust="spacingAndGlyphs">Senat 2024</text>

<!-- MAP 3 -->
<use href="#states" transform="translate(0 2580) scale(0.38270 0.33333)" style="--d:#8d8d8a;--IN:#00846a;--ID:#c6c6c4;--WY:#c6c6c4;--CO:#c6c6c4;--KS:#c6c6c4;--OK:#c6c6c4;--IA:#c6c6c4;--IL:#c6c6c4;--KY:#c6c6c4;--AR:#c6c6c4;--LA:#c6c6c4;--AL:#c6c6c4;--GA:#c6c6c4;--SC:#c6c6c4;--NC:#c6c6c4;--NH:#c6c6c4;--RI:#c6c6c4;--AK:#c6c6c4"/>
<rect x="279.4" y="2694.3" width="21" height="19.7" fill="#c6c6c4" stroke="#fff" stroke-width="0.9"/>
<use href="#conn" y="2580"/>
<use href="#labs" y="2580"/>
<text x="290" y="2706.8" font-size="6.3" fill="#fff" text-anchor="middle">NE2</text>
<g stroke="#fff" stroke-width="0.6">
<circle cx="497.5" cy="2688.3" r="6.8" fill="#c6c6c4"/><circle cx="497.5" cy="2706.7" r="6.8" fill="#8d8d8a"/><circle cx="497.5" cy="2725.3" r="6.8" fill="#8d8d8a"/>
</g>
<text class="cl" x="497.5" y="2690.4">RI</text><text class="cl" x="497.5" y="2708.8">DE</text><text class="cl" x="497.5" y="2727.4">MD</text>

<g font-size="7.5" fill="#555">
<rect x="50.1" y="2872.5" width="7" height="7" fill="#c6c6c4"/><text x="60.1" y="2878.6" textLength="37.9" lengthAdjust="spacingAndGlyphs">Keine Wahl</text>
<rect x="106.4" y="2872.5" width="7" height="7" fill="#8d8d8a"/><text x="116.7" y="2878.6" textLength="75.4" lengthAdjust="spacingAndGlyphs">Noch nicht ausgezählt</text>
<rect x="200.9" y="2872.5" width="7" height="7" fill="#00846a"/><text x="210.9" y="2878.6" textLength="57.4" lengthAdjust="spacingAndGlyphs">Auszählung läuft</text>
<rect x="277.1" y="2872.5" width="7" height="7" fill="#e9c400"/><text x="287" y="2878.6" textLength="74.3" lengthAdjust="spacingAndGlyphs">Stichwahl erforderlich</text>
<rect x="370.1" y="2872.5" width="7" height="7" fill="#0a3fd0"/><text x="380.4" y="2878.6" textLength="42.1" lengthAdjust="spacingAndGlyphs">Demokraten</text>
<rect x="430.9" y="2872.5" width="7" height="7" fill="#c0141e"/><text x="440.9" y="2878.6" textLength="44.4" lengthAdjust="spacingAndGlyphs">Republikaner</text>
<rect x="494.5" y="2872.5" width="7" height="7" fill="#7d72b5"/><text x="504.4" y="2878.6" textLength="45.6" lengthAdjust="spacingAndGlyphs">Unabhängige</text>
</g>
<rect x="47.3" y="2886.8" width="505.3" height="1" fill="#ececec"/>
<text class="sm" x="47.5" y="2897.4" font-size="6.8" textLength="91.8" lengthAdjust="spacingAndGlyphs">Quelle: NEP/Edison via Reuters</text>

<!-- RÜCKBLICK -->
<text class="h1" x="300" y="2961.8" textLength="210.5" lengthAdjust="spacingAndGlyphs">WAHLEN IM RÜCKBLICK</text>
<text class="ct" x="47.5" y="2992.1" textLength="316.5" lengthAdjust="spacingAndGlyphs">Demokraten: Gewonnene Präsidentschaftswahlen 1992-2020</text>

<use href="#states" transform="translate(0 2986.7) scale(0.38270 0.33333)" style="--d:#5b8cff;--WA:#051a55;--OR:#051a55;--CA:#051a55;--NV:#0a38a6;--AZ:#4577ea;--NM:#072a80;--CO:#0a47d0;--MT:#5284f6;--MN:#051a55;--IA:#0a47d0;--MO:#4577ea;--AR:#4577ea;--LA:#4577ea;--WI:#072a80;--IL:#051a55;--MI:#072a80;--IN:#5284f6;--OH:#2858d8;--KY:#4577ea;--TN:#4577ea;--GA:#4577ea;--FL:#3868e0;--NC:#5284f6;--VA:#2858d8;--WV:#4577ea;--PA:#072a80;--NY:#051a55;--NJ:#051a55;--DE:#051a55;--MD:#051a55;--CT:#051a55;--RI:#051a55;--MA:#051a55;--VT:#051a55;--NH:#072a80;--ME:#051a55;--HI:#051a55"/>
<use href="#conn" y="2986.7"/>
<use href="#labs" y="2986.7"/>
<g fill="#051a55" stroke="#fff" stroke-width="0.6">
<circle cx="497.5" cy="3095" r="6.8"/><circle cx="497.5" cy="3113.4" r="6.8"/><circle cx="497.5" cy="3132" r="6.8"/><circle cx="497.5" cy="3150" r="6.8"/>
</g>
<text class="cl" x="497.5" y="3097.1">RI</text><text class="cl" x="497.5" y="3115.5">DE</text><text class="cl" x="497.5" y="3134.1">MD</text><text class="cl" x="497.5" y="3152.1">DC</text>

<g font-size="7.2" fill="#555">
<rect x="166.1" y="3279.3" width="6.5" height="6.7" fill="#5b8cff"/><text x="175.6" y="3285.2">0</text>
<rect x="189.2" y="3279.3" width="6.5" height="6.7" fill="#5284f6"/><text x="198.7" y="3285.2">1</text>
<rect x="211.9" y="3279.3" width="6.5" height="6.7" fill="#4577ea"/><text x="221.4" y="3285.2">2</text>
<rect x="234.6" y="3279.3" width="6.5" height="6.7" fill="#3868e0"/><text x="244.1" y="3285.2">3</text>
<rect x="257.6" y="3279.3" width="6.5" height="6.7" fill="#2858d8"/><text x="267.1" y="3285.2">4</text>
<rect x="280.7" y="3279.3" width="6.5" height="6.7" fill="#0a47d0"/><text x="290.2" y="3285.2">5</text>
<rect x="303.7" y="3279.3" width="6.5" height="6.7" fill="#0a38a6"/><text x="313.2" y="3285.2">6</text>
<rect x="326.8" y="3279.3" width="6.5" height="6.7" fill="#072a80"/><text x="336.3" y="3285.2">7</text>
<rect x="349.8" y="3279.3" width="6.5" height="6.7" fill="#051a55"/><text x="359.3" y="3285.2">8</text>
<text x="372.9" y="3285.2" textLength="65.7" lengthAdjust="spacingAndGlyphs">Wahlen gewonnen</text>
</g>
<circle cx="264.1" cy="3348" r="4.3" fill="#0b5aa0"/>
<g fill="#d5d5d5">
<circle cx="274.8" cy="3348" r="1.6"/><circle cx="282.6" cy="3348" r="1.6"/><circle cx="290.5" cy="3348" r="1.6"/><circle cx="298.4" cy="3348" r="1.6"/><circle cx="306.2" cy="3348" r="1.6"/><circle cx="314.2" cy="3348" r="1.6"/><circle cx="322.2" cy="3348" r="1.6"/><circle cx="330.1" cy="3348" r="1.6"/><circle cx="338.1" cy="3348" r="1.6"/>
</g>

<!-- FOOTER -->
<g fill="#ececec">
<rect x="47.3" y="3390.2" width="505.3" height="1.2"/><rect x="47.3" y="3410.8" width="505.3" height="1.2"/><rect x="47.3" y="3431.5" width="505.3" height="1.2"/><rect x="47.3" y="3452.2" width="505.3" height="1.2"/><rect x="47.3" y="3472.8" width="505.3" height="1.2"/>
</g>
<g font-size="9" font-weight="bold" fill="#333">
<text x="57.4" y="3404.9" textLength="27.6" lengthAdjust="spacingAndGlyphs">Service</text>
<text x="57.4" y="3425.5" textLength="55.9" lengthAdjust="spacingAndGlyphs">tagesschau.de</text>
<text x="57.4" y="3446.2" textLength="57" lengthAdjust="spacingAndGlyphs">ARD Angebote</text>
<text x="57.4" y="3466.9" textLength="75.8" lengthAdjust="spacingAndGlyphs">Rundfunkanstalten</text>
</g>
<g fill="none" stroke="#555" stroke-width="0.9">
<polyline points="539.6,3398.5 543.8,3402.5 548,3398.5"/>
<polyline points="539.6,3419.2 543.8,3423.2 548,3419.2"/>
<polyline points="539.6,3439.8 543.8,3443.8 548,3439.8"/>
<polyline points="539.6,3460.5 543.8,3464.5 548,3460.5"/>
</g>
<g font-size="9" fill="#555">
<text x="58.2" y="3493.2" textLength="44" lengthAdjust="spacingAndGlyphs">Impressum</text>
<text x="58.2" y="3514.9" textLength="78" lengthAdjust="spacingAndGlyphs">So erreichen Sie uns</text>
<text x="58.2" y="3536.5" textLength="87.2" lengthAdjust="spacingAndGlyphs">Datenschutzerklärung</text>
<text x="58.2" y="3558.2" textLength="39.8" lengthAdjust="spacingAndGlyphs">Bildrechte</text>
</g>
<text x="468.8" y="3629.5" font-size="6.2" fill="#333" textLength="39.4" lengthAdjust="spacingAndGlyphs">Wir sind deins.</text>
<text x="509.8" y="3630" font-size="13" font-weight="bold" fill="#222" textLength="24" lengthAdjust="spacingAndGlyphs">ARD</text>
<circle cx="542" cy="3625" r="9.2" fill="none" stroke="#222" stroke-width="2"/>
<text x="542" y="3629.5" font-size="12" font-weight="bold" fill="#222" text-anchor="middle">1</text>
<text x="47.5" y="3651.3" font-size="5.5" fill="#888" textLength="81.1" lengthAdjust="spacingAndGlyphs">© ARD-aktuell / tagesschau.de</text>
</svg>
</body>
</html>
